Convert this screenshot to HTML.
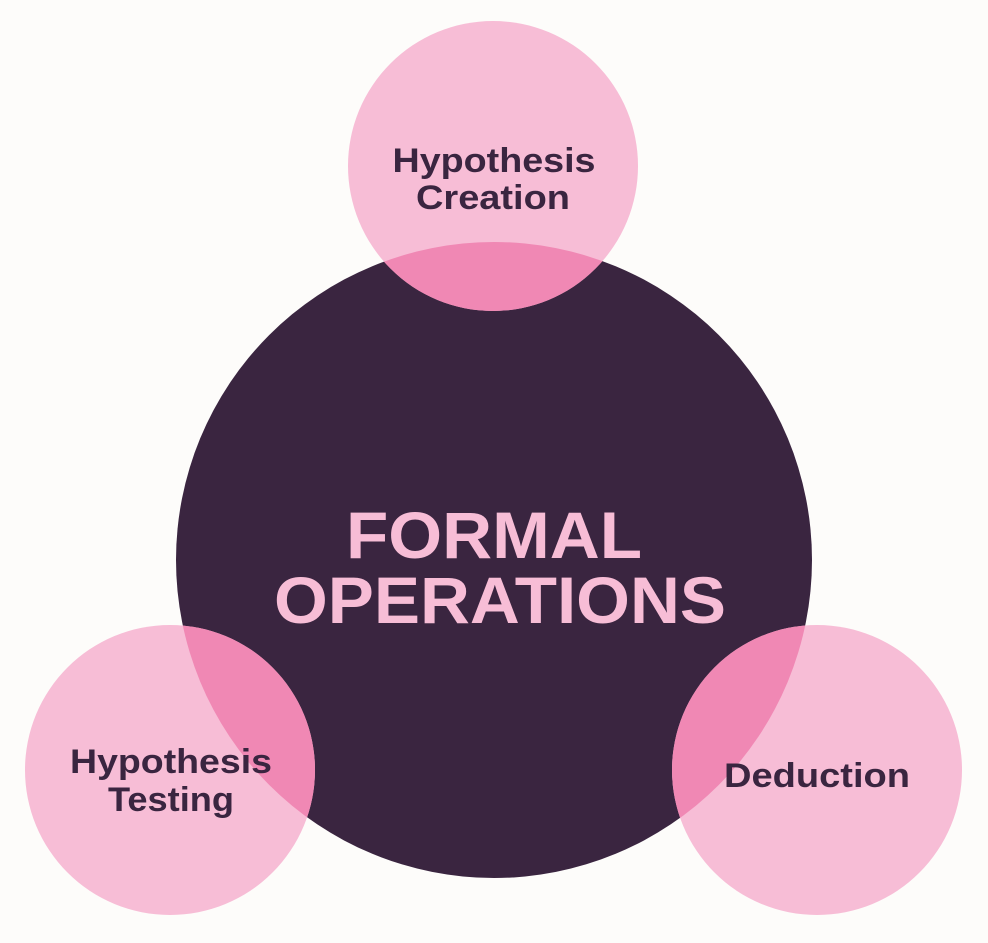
<!DOCTYPE html>
<html><head><style>
html,body{margin:0;padding:0;background:#fdfcfa;}
svg{display:block;}
text{font-family:"Liberation Sans",sans-serif;font-weight:bold;}
</style></head><body>
<svg width="988" height="943" viewBox="0 0 988 943" xmlns="http://www.w3.org/2000/svg">
<defs>
<clipPath id="big"><circle cx="494" cy="560" r="318"/></clipPath>
</defs>
<rect width="988" height="943" fill="#fdfcfa"/>
<circle cx="494" cy="560" r="318" fill="#3a2540"/>
<circle cx="493" cy="166" r="145" fill="#f7bdd6"/>
<circle cx="170" cy="770" r="145" fill="#f7bdd6"/>
<circle cx="817" cy="770" r="145" fill="#f7bdd6"/>
<g clip-path="url(#big)" fill="#f088b4">
<circle cx="493" cy="166" r="145"/>
<circle cx="170" cy="770" r="145"/>
<circle cx="817" cy="770" r="145"/>
</g>
<text x="494" y="558" text-anchor="middle" font-size="66" fill="#f7bdd6" textLength="296" lengthAdjust="spacingAndGlyphs">FORMAL</text>
<text x="500" y="623" text-anchor="middle" font-size="66" fill="#f7bdd6" textLength="452" lengthAdjust="spacingAndGlyphs">OPERATIONS</text>
<g fill="#3a2540" font-size="34" text-anchor="middle">
<text x="494" y="172" textLength="203" lengthAdjust="spacingAndGlyphs">Hypothesis</text>
<text x="493" y="209" textLength="154" lengthAdjust="spacingAndGlyphs">Creation</text>
<text x="171" y="773" textLength="202" lengthAdjust="spacingAndGlyphs">Hypothesis</text>
<text x="171" y="811" textLength="126" lengthAdjust="spacingAndGlyphs">Testing</text>
<text x="817" y="787" textLength="186" lengthAdjust="spacingAndGlyphs">Deduction</text>
</g>
</svg>
</body></html>
